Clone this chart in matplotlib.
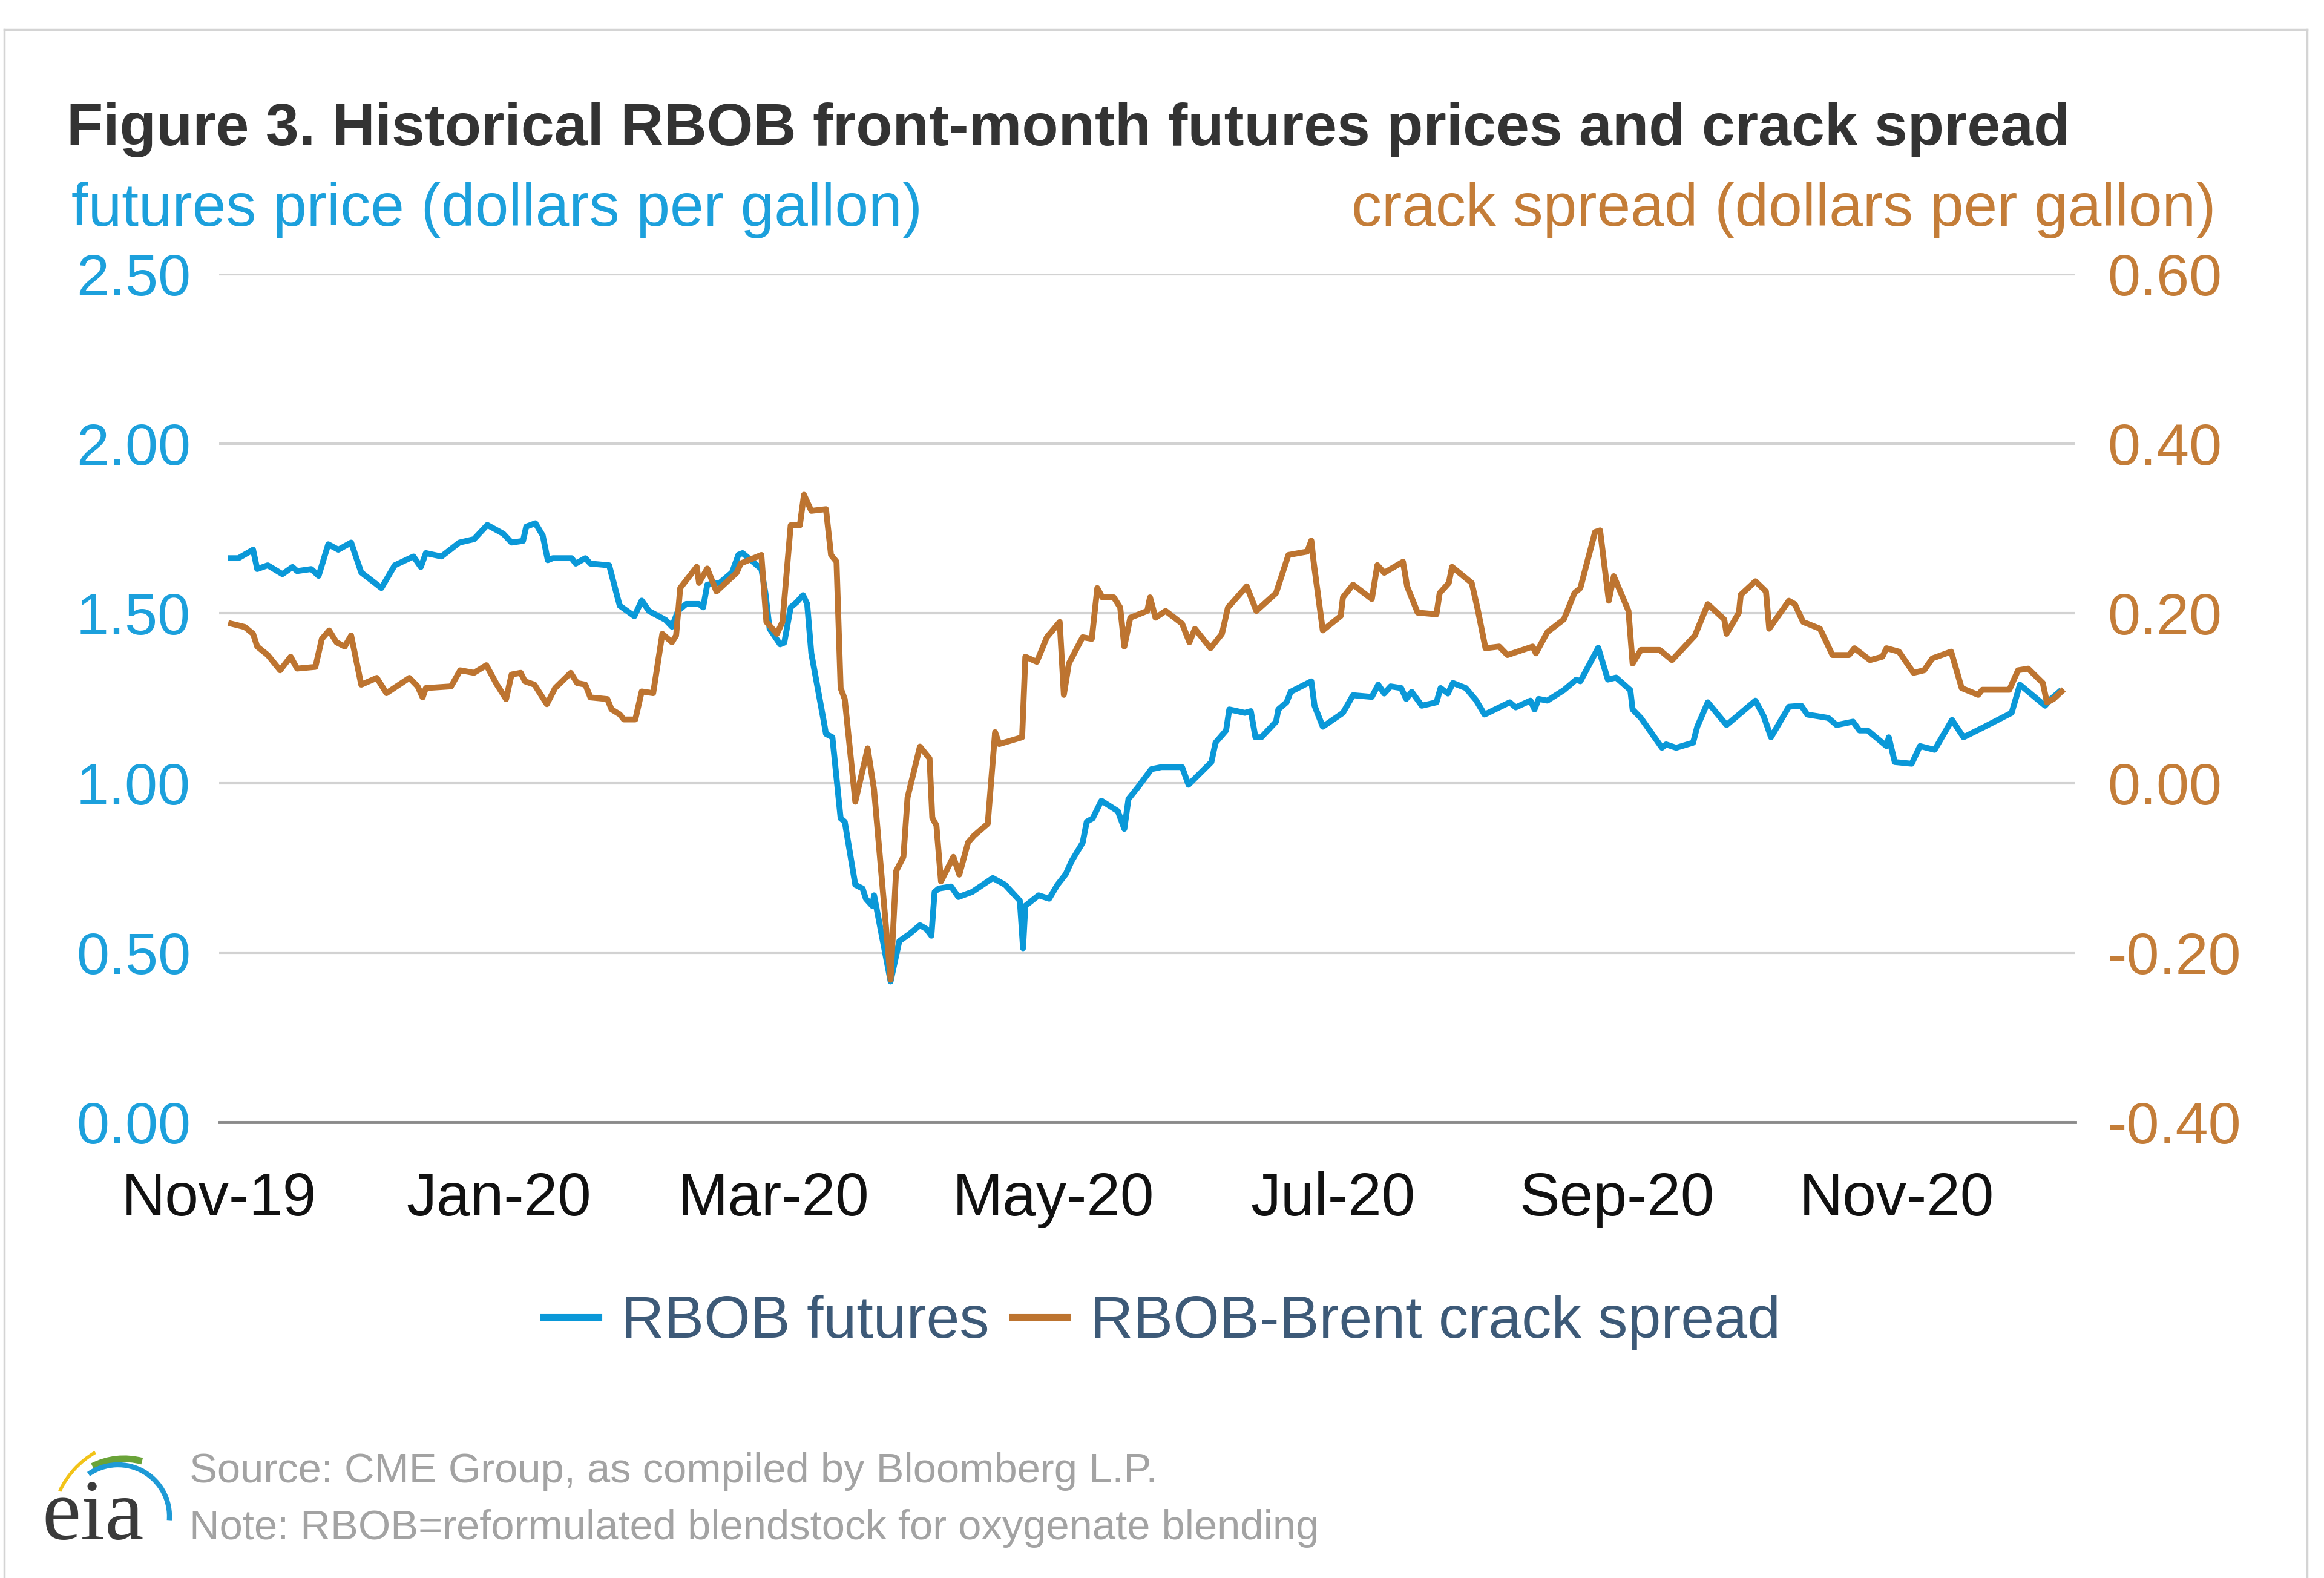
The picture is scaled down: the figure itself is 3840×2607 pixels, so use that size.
import pandas as pd
import matplotlib
matplotlib.use("Agg")
import matplotlib.pyplot as plt
from matplotlib.lines import Line2D
from matplotlib.patches import Arc

plt.rcParams['font.family'] = ['Liberation Sans', 'DejaVu Sans']

# ---- data ----
# days counted from 1 Nov 2019
start_date = '2019-11-01'

futures_days = [
    2.6, 4.2, 7.4, 8.3, 10.6, 13.8, 16.0, 17.0, 20.1, 21.7, 23.8, 26.0, 28.8, 31.0,
    35.4, 38.3, 42.4, 44.0, 45.1, 48.5, 52.4, 55.6, 58.5, 62.0, 63.8, 66.3, 67.0,
    69.0, 70.6, 71.7, 72.8, 76.9, 77.8, 79.9, 81.0, 85.1, 86.5, 87.4, 90.6, 92.2,
    93.8, 97.4, 98.8, 100.1, 101.9, 104.7, 105.6, 106.5, 109.2, 111.9, 113.3,
    114.2, 116.5, 118.3, 119.2, 120.1, 122.4, 123.3, 124.7, 126.0, 127.4, 128.3,
    129.2, 132.0, 132.4, 133.8, 135.6, 136.5, 138.8, 140.4, 141.1, 142.5, 142.9,
    146.5, 148.4, 150.6, 152.9, 154.3, 155.4, 156.1, 157.0, 159.7, 161.3, 164.3,
    168.8, 171.5, 174.7, 175.4, 175.9, 178.8, 181.1, 182.9, 184.7, 186.0, 188.4,
    189.3, 190.6, 192.5, 196.1, 197.5, 198.4, 200.6, 203.4, 205.6, 210.1, 211.5,
    216.5, 217.4, 219.7, 220.4, 223.8, 225.1, 226.1, 227.4, 230.6, 231.1, 232.9,
    233.8, 238.3, 239.0, 240.8, 245.2, 247.4, 251.5, 252.9, 254.2, 255.6, 257.9,
    259.0, 260.2, 262.4, 265.6, 266.5, 268.1, 269.2, 272.0, 274.2, 276.1, 281.6,
    282.9, 286.1, 287.0, 287.9, 289.8, 293.4, 296.1, 297.0, 300.9, 303.0, 304.8,
    307.9, 308.4, 310.2, 314.8, 315.7, 317.9, 321.6, 322.5, 324.8, 328.9, 335.2,
    337.0, 338.6, 342.5, 345.2, 346.5, 351.1, 352.9, 356.5, 357.9, 359.7, 363.8,
    364.3, 365.6, 369.3, 371.1, 374.3, 378.1, 380.6, 385.2, 391.1, 392.9, 398.4,
    399.7, 401.5,
]
futures_price = [
    1.663, 1.663, 1.688, 1.631, 1.642, 1.616, 1.637, 1.625, 1.631, 1.611, 1.704,
    1.688, 1.709, 1.621, 1.575, 1.642, 1.668, 1.637, 1.678, 1.668, 1.709, 1.719,
    1.761, 1.735, 1.709, 1.714, 1.756, 1.766, 1.730, 1.657, 1.663, 1.663, 1.647,
    1.663, 1.647, 1.642, 1.569, 1.523, 1.492, 1.538, 1.507, 1.481, 1.461, 1.507,
    1.528, 1.528, 1.518, 1.585, 1.590, 1.621, 1.673, 1.678, 1.652, 1.631, 1.559,
    1.455, 1.409, 1.414, 1.518, 1.533, 1.554, 1.528, 1.383, 1.176, 1.145, 1.135,
    0.896, 0.886, 0.700, 0.689, 0.659, 0.638, 0.669, 0.415, 0.534, 0.555, 0.581,
    0.570, 0.550, 0.679, 0.689, 0.695, 0.664, 0.679, 0.720, 0.700, 0.653, 0.513,
    0.638, 0.669, 0.659, 0.700, 0.731, 0.770, 0.824, 0.886, 0.896, 0.948, 0.917,
    0.865, 0.953, 0.990, 1.041, 1.047, 1.047, 0.995, 1.062, 1.119, 1.155, 1.217,
    1.207, 1.212, 1.135, 1.135, 1.181, 1.217, 1.238, 1.269, 1.300, 1.228, 1.166,
    1.207, 1.259, 1.254, 1.290, 1.264, 1.285, 1.280, 1.248, 1.269, 1.228, 1.238,
    1.280, 1.264, 1.295, 1.280, 1.245, 1.202, 1.238, 1.223, 1.243, 1.217, 1.248,
    1.243, 1.274, 1.305, 1.300, 1.399, 1.305, 1.311, 1.274, 1.217, 1.192, 1.104,
    1.114, 1.104, 1.119, 1.166, 1.238, 1.171, 1.243, 1.197, 1.135, 1.225, 1.228,
    1.202, 1.192, 1.171, 1.181, 1.155, 1.155, 1.109, 1.135, 1.062, 1.057, 1.109,
    1.098, 1.186, 1.135, 1.166, 1.207, 1.290, 1.228, 1.248, 1.269,
]

crack_days = [
    2.6, 5.6, 7.4, 8.3, 10.6, 13.3, 15.6, 17.0, 21.0, 22.4, 24.0, 25.6, 27.4, 28.8,
    31.0, 34.4, 36.5, 41.5, 43.3, 44.4, 45.1, 50.6, 52.6, 55.6, 58.3, 60.6, 62.6,
    63.8, 65.8, 66.7, 68.8, 71.5, 73.3, 76.7, 78.1, 79.9, 81.0, 84.7, 85.6, 87.4,
    88.3, 90.8, 92.2, 94.7, 96.7, 98.8, 99.7, 100.6, 104.2, 104.7, 106.5, 108.5,
    112.9, 113.8, 118.3, 119.4, 121.7, 122.9, 124.7, 126.7, 127.6, 129.2, 132.4,
    133.5, 134.7, 135.6, 136.5, 138.8, 141.5, 142.9, 146.5, 147.7, 149.3, 150.2,
    152.9, 155.0, 155.6, 156.5, 157.5, 160.2, 161.5, 163.4, 164.7, 167.7, 169.3,
    170.2, 175.2, 175.9, 178.4, 180.6, 183.4, 184.3, 185.4, 188.4, 190.4, 191.6,
    192.7, 195.2, 196.6, 197.5, 198.8, 202.5, 203.1, 204.3, 206.5, 210.1, 211.7,
    212.9, 216.3, 218.8, 220.1, 224.2, 226.3, 230.6, 233.3, 237.4, 238.3, 238.8,
    240.8, 244.7, 245.2, 247.4, 251.5, 252.7, 254.2, 258.3, 259.2, 261.5, 265.6,
    266.3, 268.3, 269.0, 273.3, 274.6, 276.3, 279.3, 281.1, 286.6, 287.3, 289.8,
    293.4, 295.7, 297.0, 300.2, 301.3, 303.2, 304.3, 307.5, 308.4, 310.2, 314.3,
    317.0, 322.0, 324.8, 328.4, 328.9, 331.6, 332.0, 335.2, 337.5, 338.2, 342.5,
    343.8, 345.6, 349.3, 352.0, 355.6, 356.8, 360.2, 362.9, 363.8, 366.5, 369.7,
    372.0, 373.8, 377.9, 380.2, 383.8, 384.7, 390.6, 392.5, 394.7, 397.9, 398.8,
    400.2, 402.0,
]
crack_spread = [
    0.188, 0.184, 0.176, 0.161, 0.151, 0.133, 0.149, 0.135, 0.137, 0.170, 0.180,
    0.166, 0.161, 0.174, 0.116, 0.124, 0.106, 0.124, 0.114, 0.101, 0.112, 0.114,
    0.133, 0.130, 0.139, 0.116, 0.099, 0.128, 0.130, 0.120, 0.116, 0.093, 0.112,
    0.130, 0.118, 0.116, 0.101, 0.099, 0.087, 0.081, 0.075, 0.075, 0.108, 0.106,
    0.176, 0.166, 0.174, 0.230, 0.255, 0.236, 0.253, 0.226, 0.248, 0.259, 0.269,
    0.190, 0.176, 0.190, 0.304, 0.304, 0.340, 0.321, 0.323, 0.269, 0.261, 0.112,
    0.099, -0.022, 0.041, -0.008, -0.232, -0.104, -0.087, -0.017, 0.043, 0.029,
    -0.041, -0.050, -0.116, -0.087, -0.108, -0.070, -0.062, -0.048, 0.060, 0.046,
    0.054, 0.149, 0.143, 0.172, 0.190, 0.104, 0.141, 0.172, 0.170, 0.230, 0.219,
    0.219, 0.207, 0.161, 0.195, 0.203, 0.219, 0.195, 0.203, 0.188, 0.166, 0.182,
    0.159, 0.176, 0.207, 0.232, 0.203, 0.224, 0.269, 0.273, 0.286, 0.261, 0.180,
    0.197, 0.219, 0.234, 0.217, 0.257, 0.248, 0.261, 0.232, 0.201, 0.199, 0.224,
    0.236, 0.255, 0.236, 0.205, 0.159, 0.161, 0.151, 0.161, 0.153, 0.178, 0.193,
    0.224, 0.230, 0.296, 0.298, 0.215, 0.244, 0.203, 0.141, 0.157, 0.157, 0.145,
    0.174, 0.211, 0.193, 0.176, 0.201, 0.222, 0.238, 0.226, 0.182, 0.215, 0.211,
    0.190, 0.182, 0.151, 0.151, 0.159, 0.145, 0.149, 0.159, 0.155, 0.130, 0.133,
    0.147, 0.155, 0.112, 0.104, 0.110, 0.110, 0.133, 0.135, 0.118, 0.095, 0.099,
    0.108,
]

left_ticks = [0.0, 0.5, 1.0, 1.5, 2.0, 2.5]
right_ticks = [-0.4, -0.2, 0.0, 0.2, 0.4, 0.6]
month_ticks = ['2019-11-01', '2020-01-01', '2020-03-01', '2020-05-01',
               '2020-07-01', '2020-09-01', '2020-11-01']
month_labels = ['Nov-19', 'Jan-20', 'Mar-20', 'May-20', 'Jul-20', 'Sep-20', 'Nov-20']

BLUE = '#0a98d8'
ORANGE = '#bd7430'
BLUE_TXT = '#1ca0dc'
ORANGE_TXT = '#c47d38'

t0 = pd.Timestamp(start_date)
x_fut = t0 + pd.to_timedelta(futures_days, unit='D')
x_crack = t0 + pd.to_timedelta(crack_days, unit='D')

fig = plt.figure(figsize=(38.4, 26.07), dpi=100)
ax = fig.add_axes([0.0943, 0.2888, 0.7987, 0.5374])
ax2 = ax.twinx()

ax.plot(x_fut, futures_price, color=BLUE, lw=7, solid_joinstyle='round', zorder=3)
ax2.plot(x_crack, crack_spread, color=ORANGE, lw=7, solid_joinstyle='round', zorder=3)

ax.set_xlim(t0, pd.Timestamp('2020-12-10'))
ax.set_ylim(0, 2.5)
ax2.set_ylim(-0.4, 0.6)

ax.set_yticks(left_ticks)
ax.set_yticklabels([f'{v:.2f}' for v in left_ticks])
ax2.set_yticks(right_ticks)
ax2.set_yticklabels([f'{v:.2f}' for v in right_ticks])
ax.set_xticks(pd.to_datetime(month_ticks))
ax.set_xticklabels(month_labels)

ax.yaxis.grid(True, color='#d2d2d2', lw=3)
ax.set_axisbelow(True)
ax.axhline(0, color='#8a8a8a', lw=3.5, clip_on=False, zorder=2)

for a in (ax, ax2):
    for s in a.spines.values():
        s.set_visible(False)
ax.tick_params(axis='y', length=0, pad=34, labelsize=70, labelcolor=BLUE_TXT)
ax2.tick_params(axis='y', length=0, pad=38, labelsize=70, labelcolor=ORANGE_TXT)
ax.tick_params(axis='x', length=0, pad=58, labelsize=72, labelcolor='#111111')

# titles and axis labels
fig.text(0.0287, 0.908, 'Figure 3. Historical RBOB front-month futures prices and crack spread',
         fontsize=71, fontweight='bold', color='#333333', va='baseline')
fig.text(0.0306, 0.857, 'futures price (dollars per gallon)', fontsize=72,
         color=BLUE_TXT, va='baseline')
fig.text(0.9535, 0.857, 'crack spread (dollars per gallon)', fontsize=72,
         color=ORANGE_TXT, va='baseline', ha='right')

handles = [Line2D([], [], color=BLUE, lw=8), Line2D([], [], color=ORANGE, lw=8)]
fig.legend(handles, ['RBOB futures', 'RBOB-Brent crack spread'], loc='center',
           bbox_to_anchor=(0.5, 0.162), ncol=2, frameon=False, fontsize=71,
           handlelength=0.92, handletextpad=0.38, columnspacing=0.38,
           labelcolor='#3d5a78')

# footer
fig.text(0.0816, 0.0606, 'Source: CME Group, as compiled by Bloomberg L.P.',
         fontsize=49.5, color='#a3a3a3', va='baseline')
fig.text(0.0816, 0.0245, 'Note: RBOB=reformulated blendstock for oxygenate blending',
         fontsize=49.5, color='#a3a3a3', va='baseline')

# eia logo (rough)
fig.text(0.018, 0.0245, 'eia', fontsize=104, family='Liberation Serif',
         color='#3a3a3a', va='baseline')
px = fig.dpi_scale_trans
H = 26.07
fig.add_artist(Arc((2.30, H - 25.25), 2.9, 2.9, theta1=120, theta2=155,
                   color='#f2c318', lw=4, transform=px))
fig.add_artist(Arc((2.05, H - 25.25), 2.3, 2.3, theta1=75, theta2=117,
                   color='#6aa338', lw=8, transform=px))
fig.add_artist(Arc((1.95, H - 25.05), 1.7, 1.7, theta1=-5, theta2=125,
                   color='#1e9ad6', lw=6, transform=px))

# outer frame
frame = dict(color='#d4d4d4', lw=2.5, transform=fig.transFigure)
L, R, T = 7 / 3840, 3812 / 3840, 1 - 49 / 2607
fig.add_artist(Line2D([L, R], [T, T], **frame))
fig.add_artist(Line2D([L, L], [T, 0], **frame))
fig.add_artist(Line2D([R, R], [T, 0], **frame))

fig.savefig('out.png', dpi=100, facecolor='white')
